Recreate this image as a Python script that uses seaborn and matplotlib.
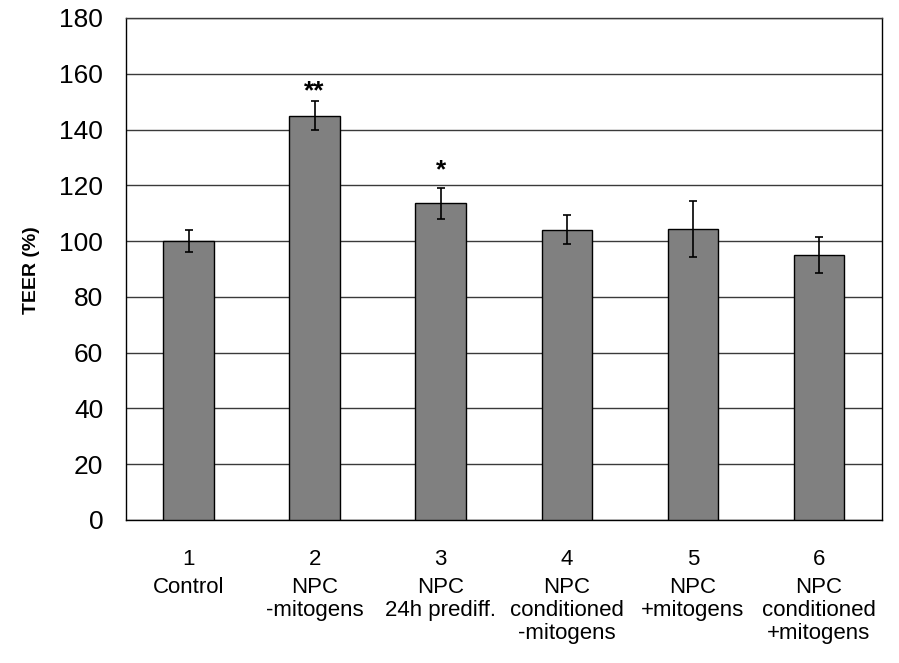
import matplotlib
matplotlib.use("Agg")
import matplotlib.pyplot as plt
import seaborn as sns
import pandas as pd
import numpy as np

numbers = ["1", "2", "3", "4", "5", "6"]
names = ["Control", "NPC\n-mitogens", "NPC\n24h prediff.", "NPC\nconditioned\n-mitogens",
         "NPC\n+mitogens", "NPC\nconditioned\n+mitogens"]
teer = [100.0, 145.0, 113.5, 104.0, 104.3, 95.0]
err = [4.0, 5.3, 5.5, 5.2, 10.0, 6.4]
stars = ["", "**", "*", "", "", ""]
star_y = [0, 151.3, 122.8, 0, 0, 0]

sns.set_theme(style="white")
plt.rcParams['font.family'] = ['Liberation Sans', 'DejaVu Sans']

df = pd.DataFrame({"group": numbers, "teer": teer})

fig = plt.figure(figsize=(8.99, 6.63), dpi=100)
ax = fig.add_axes([0.1396, 0.2157, 0.8415, 0.7572])

sns.barplot(data=df, x="group", y="teer", order=numbers, color="#808080",
            saturation=1, width=0.4, edgecolor="black", linewidth=1.0,
            errorbar=None, ax=ax, zorder=3)
ax.errorbar(np.arange(len(numbers)), teer, yerr=err, fmt="none", ecolor="black",
            elinewidth=1.2, capsize=3, capthick=1.2, zorder=4)

for i, (s, sy) in enumerate(zip(stars, star_y)):
    if s:
        ax.text(i, sy, s, ha="center", va="baseline", fontsize=19, fontweight="bold",
                color="black", zorder=5)

ax.set_ylim(0, 180)
ax.set_yticks(np.arange(0, 181, 20))
ax.set_xlim(-0.5, 5.5)
ax.yaxis.grid(True, color="#3a3a3a", linewidth=1.0)
ax.set_axisbelow(True)
for sp in ax.spines.values():
    sp.set_visible(True)
    sp.set_color("black")
    sp.set_linewidth(1.0)
ax.spines["top"].set_color("#3a3a3a")

ax.tick_params(axis="y", length=0, pad=16, labelsize=19, labelcolor="black")
ax.tick_params(axis="x", length=0, pad=21, labelsize=16, labelcolor="black")
ax.set_xticks(range(len(numbers)))
ax.set_xticklabels(numbers)
ax.set_xlabel("")
ax.set_ylabel("")

trans = matplotlib.transforms.blended_transform_factory(ax.transData, ax.transAxes)
for i, nm in enumerate(names):
    ax.text(i, -0.1135, nm, transform=trans, ha="center", va="top",
            fontsize=16, linespacing=1.12, color="black")

ax.text(-0.1236, 0.498, "TEER (%)", transform=ax.transAxes, rotation=90,
        ha="center", va="center", fontsize=14, fontweight="bold", color="black")

fig.savefig("out.png", dpi=100)
